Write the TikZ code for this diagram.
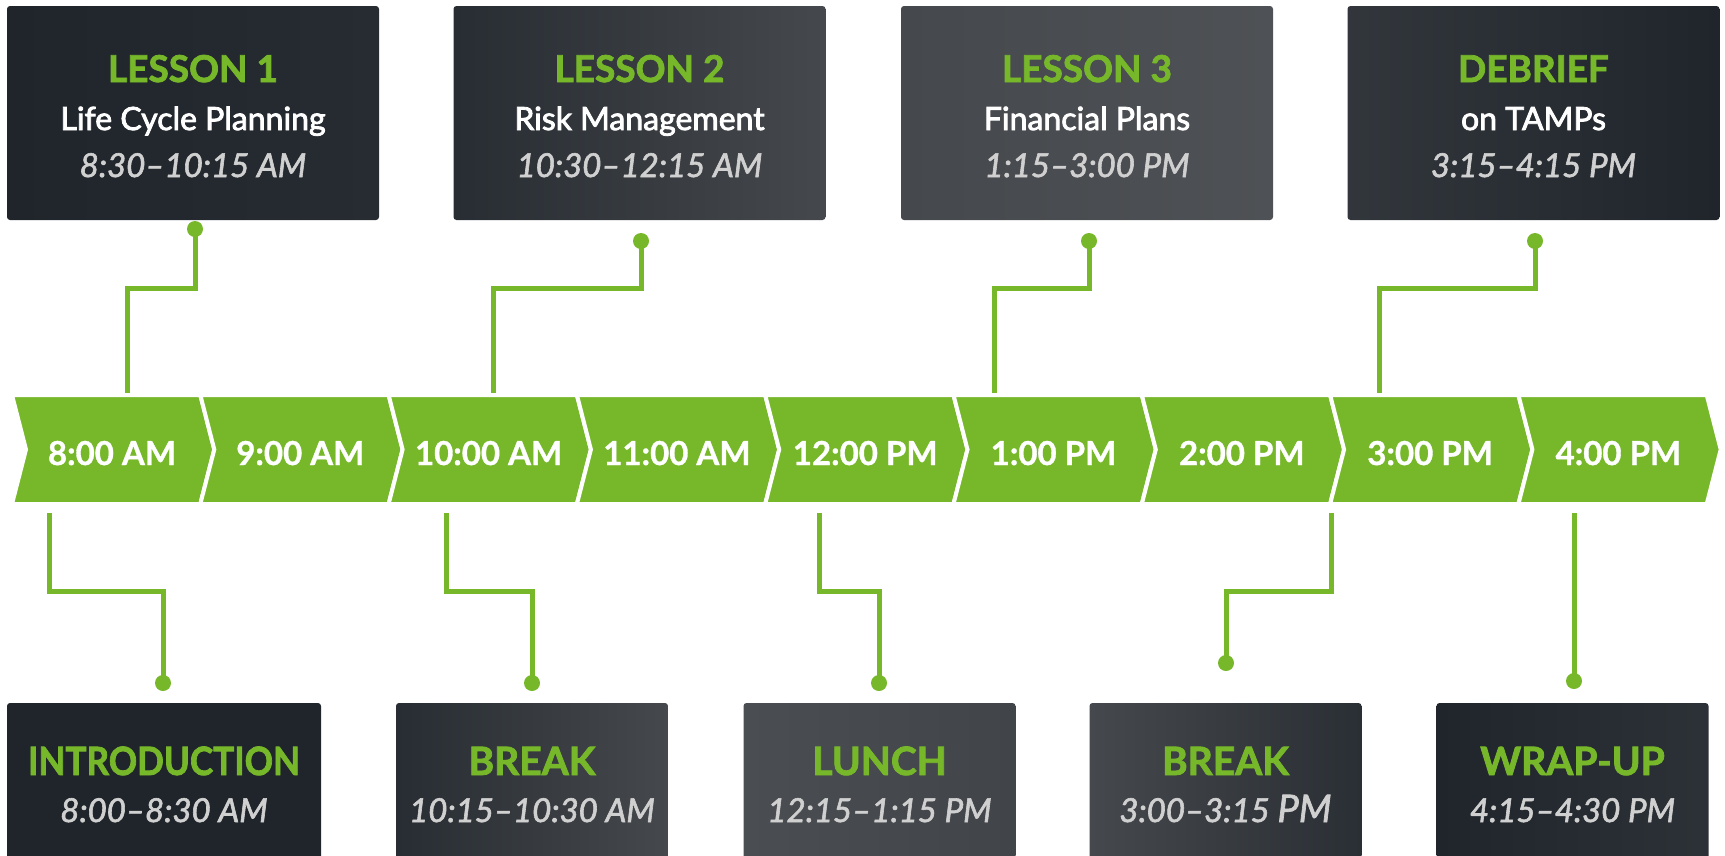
\documentclass[tikz,border=0pt]{standalone}
\usepackage{fontspec}
\setmainfont{Lato}
\newfontfamily\ttlf[BoldFeatures={FakeBold=2}]{Lato}
\newfontfamily\subf[FakeBold=2.5]{Lato}
\newfontfamily\timf[ItalicFeatures={FakeBold=1.8}]{Lato}
\newfontfamily\labf[BoldFeatures={FakeBold=1}]{Lato}
\definecolor{tlgreen}{HTML}{76B82A}
\definecolor{timegray}{HTML}{D0D0D0}
\definecolor{dA}{HTML}{1F252B}
\definecolor{dB}{HTML}{2A2F35}
\definecolor{dC}{HTML}{45484C}
\definecolor{dD}{HTML}{4A4D51}
\begin{document}
\begin{tikzpicture}[x=1pt,y=-1pt,
  box/.style={rectangle, rounded corners=3pt, inner sep=0pt, outer sep=0pt, draw=none},
  topbox/.style={box, minimum width=372pt, minimum height=214pt},
  botbox/.style={box, minimum width=272pt, minimum height=200pt},
  ttl/.style={anchor=base, text=tlgreen, font=\fontsize{37}{40}\selectfont\ttlf\bfseries, inner sep=0pt},
  sub/.style={anchor=base, text=white, font=\fontsize{32}{36}\selectfont\subf, inner sep=0pt},
  tim/.style={anchor=base, text=timegray, font=\fontsize{33}{36}\selectfont\timf\itshape, inner sep=0pt},
  tlab/.style={anchor=base, text=white, font=\fontsize{33}{36}\selectfont\labf\bfseries, inner sep=0pt},
  conn/.style={draw=tlgreen, line width=5pt, line join=miter},
  dot/.style={circle, fill=tlgreen, minimum size=16pt, inner sep=0pt, outer sep=0pt},
  seg/.style={fill=tlgreen, draw=white, line width=4pt, line join=miter}
]
\useasboundingbox (0,0) rectangle (1725,855);
\clip (0,0) rectangle (1725,855);

% ---------- top boxes ----------
\node[topbox, left color=dA, right color=dB!70!dA] (L1) at (193,113) {};
\node[topbox, left color=dB!80!dA, right color=dC] (L2) at (639.5,113) {};
\node[topbox, left color=dC, right color=dC!95!white] (L3) at (1087,113) {};
\node[topbox, left color=dB!70!dC, right color=dA] (L4) at (1533.5,113) {};

\node[ttl] (L1t) at (193,82) {LESSON 1};
\node[sub] (L1s) at (193,130) {Life Cycle Planning};
\node[tim] (L1m) at (193,177) {8:30–10:15 AM};
\node[ttl] (L2t) at (639.5,82) {LESSON 2};
\node[sub] (L2s) at (639.5,130) {Risk Management};
\node[tim] (L2m) at (639.5,177) {10:30–12:15 AM};
\node[ttl] (L3t) at (1087,82) {LESSON 3};
\node[sub] (L3s) at (1087,130) {Financial Plans};
\node[tim] (L3m) at (1087,177) {1:15–3:00 PM};
\node[ttl] (L4t) at (1533.5,82) {DEBRIEF};
\node[sub] (L4s) at (1533.5,130) {on TAMPs};
\node[tim] (L4m) at (1533.5,177) {3:15–4:15 PM};

% ---------- bottom boxes ----------
\node[botbox, minimum width=314pt, left color=dA, right color=dA] (B1) at (164,803) {};
\node[botbox, left color=dB!80!dA, right color=dC] (B2) at (532,803) {};
\node[botbox, left color=dD, right color=dC!85!dB] (B3) at (879.5,803) {};
\node[botbox, left color=dC, right color=dB] (B4) at (1225.5,803) {};
\node[botbox, left color=dA, right color=dB!90!dC] (B5) at (1572.5,803) {};

\node[ttl, font=\fontsize{39}{40}\selectfont\ttlf\bfseries] (B1t) at (164,775) {\scalebox{0.9}[1]{INTRODUCTION}};
\node[tim] (B1m) at (164,822) {8:00–8:30 AM};
\node[ttl, font=\fontsize{39}{40}\selectfont\ttlf\bfseries] (B2t) at (532,775) {BREAK};
\node[tim] (B2m) at (532,822) {10:15–10:30 AM};
\node[ttl, font=\fontsize{39}{40}\selectfont\ttlf\bfseries] (B3t) at (879.5,775) {LUNCH};
\node[tim] (B3m) at (879.5,822) {12:15–1:15 PM};
\node[ttl, font=\fontsize{39}{40}\selectfont\ttlf\bfseries] (B4t) at (1225.5,775) {BREAK};
\node[tim] (B4m) at (1225.5,822) {3:00–3:15 {\fontsize{38}{40}\selectfont PM}};
\node[ttl, font=\fontsize{39}{40}\selectfont\ttlf\bfseries] (B5t) at (1572.5,775) {WRAP-UP};
\node[tim] (B5m) at (1572.5,822) {4:15–4:30 PM};

% ---------- timeline ----------
\foreach \k/\lab in {0/8:00 AM,1/9:00 AM,2/10:00 AM,3/11:00 AM,4/12:00 PM,5/1:00 PM,6/2:00 PM,7/3:00 PM,8/4:00 PM}{
  \pgfmathsetmacro{\xa}{12+188.3*\k}
  \pgfmathsetmacro{\xb}{\xa+188.3}
  \path[seg] (\xa,395) -- (\xb,395) -- (\xb+14,449.5) -- (\xb,504) -- (\xa,504) -- (\xa+14,449.5) -- cycle;
  \node[tlab] (T\k) at (\xa+100,465) {\lab};
}

% ---------- top connectors ----------
\node[dot] (d1) at (195,229) {};
\node[dot] (d2) at (641,241) {};
\node[dot] (d3) at (1089,241) {};
\node[dot] (d4) at (1535,241) {};
\coordinate (u1) at (127,393);
\coordinate (u2) at (493,393);
\coordinate (u3) at (994,393);
\coordinate (u4) at (1379,393);
\draw[conn] (d1.center) |- (127,288) -- (u1);
\draw[conn] (d2.center) |- (493,288) -- (u2);
\draw[conn] (d3.center) |- (994,288) -- (u3);
\draw[conn] (d4.center) |- (1379,288) -- (u4);

% ---------- bottom connectors ----------
\node[dot] (e1) at (163,683) {};
\node[dot] (e2) at (532,683) {};
\node[dot] (e3) at (879,683) {};
\node[dot] (e4) at (1226,663) {};
\node[dot] (e5) at (1574,681) {};
\coordinate (v1) at (49,513);
\coordinate (v2) at (446,513);
\coordinate (v3) at (819,513);
\coordinate (v4) at (1331,513);
\coordinate (v5) at (1574,513);
\draw[conn] (v1) -- (49,591) -| (e1.center);
\draw[conn] (v2) -- (446,591) -| (e2.center);
\draw[conn] (v3) -- (819,591) -| (e3.center);
\draw[conn] (v4) -- (1331,591) -| (e4.center);
\draw[conn] (v5) -- (e5.center);
\end{tikzpicture}
\end{document}
